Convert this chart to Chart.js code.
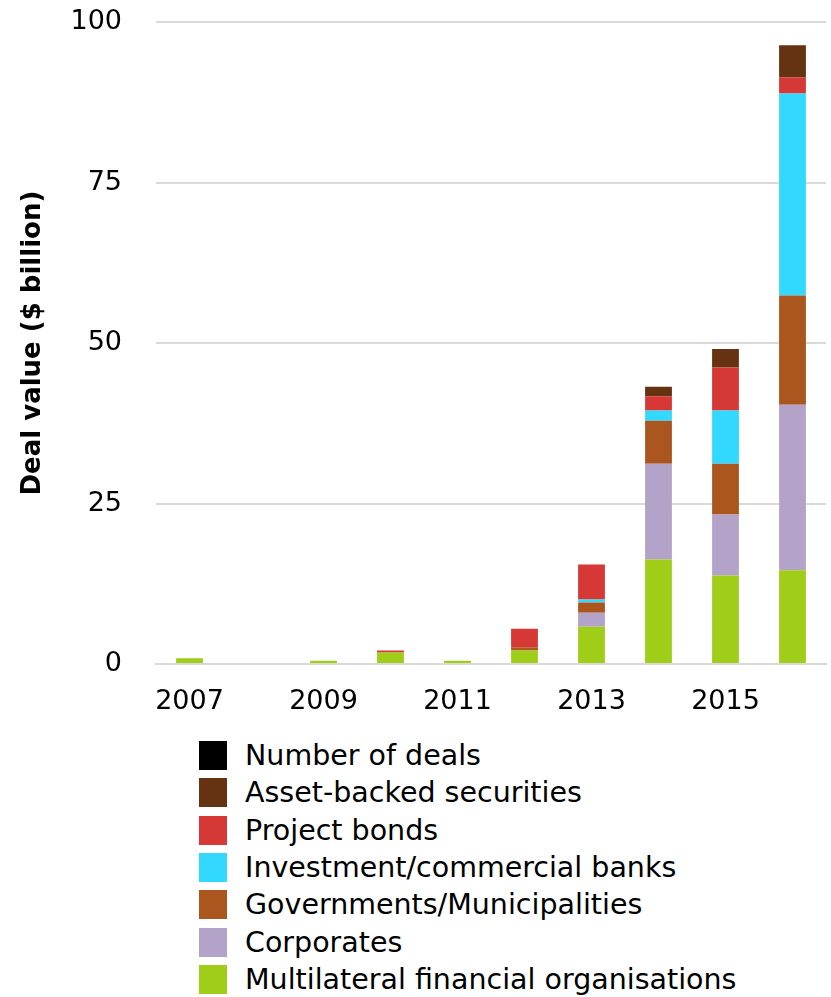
<!DOCTYPE html>
<html>
<head>
<meta charset="utf-8">
<script src="https://cdn.jsdelivr.net/npm/chart.js@4"></script>
<style>
  body { margin: 0; background: #fff; font-family: "DejaVu Sans", sans-serif; }
  #wrap { position: relative; width: 831px; height: 997px; }
  #grafico { position: absolute; left: 0; top: 0; }
  #leyenda { position: absolute; left: 199px; top: 737px; list-style: none; margin: 0; padding: 0; }
  #leyenda li { display: flex; align-items: center; height: 37.3px; font-size: 28.5px; color: #000; white-space: nowrap; }
  #leyenda span.caja { display: inline-block; width: 28px; height: 29px; margin-right: 18px; }
</style>
</head>
<body>
<div id="wrap">
  <canvas id="grafico" width="831" height="730"></canvas>
  <ul id="leyenda"></ul>
</div>
<script>
// years on the x axis (only every second one gets a label)
const anios = ["2007", "2008", "2009", "2010", "2011", "2012", "2013", "2014", "2015", "2016"];

// deal value per issuer type, $ billion
const multilaterales = [0.9, 0, 0.5, 1.8, 0.5, 2.1, 5.8, 16.3, 13.8, 14.6];
const corporativos   = [0, 0, 0, 0, 0, 0, 2.2, 14.9, 9.5, 25.8];
const gobiernos      = [0, 0, 0, 0, 0, 0.5, 1.6, 6.7, 7.9, 17.0];
const bancos         = [0, 0, 0, 0, 0, 0, 0.45, 1.6, 8.3, 31.5];
const bonosProyecto  = [0, 0, 0, 0.3, 0, 2.9, 5.45, 2.2, 6.7, 2.5];
const titulizados    = [0, 0, 0, 0, 0, 0, 0, 1.5, 2.9, 5.0];
const numeroDeals    = [];

const ticksY = [0, 25, 50, 75, 100];

const fuente = "DejaVu Sans";

const datasets = [
  { label: "Multilateral financial organisations", data: multilaterales, backgroundColor: "#9fcd18" },
  { label: "Corporates", data: corporativos, backgroundColor: "#b4a3c8" },
  { label: "Governments/Municipalities", data: gobiernos, backgroundColor: "#ab561e" },
  { label: "Investment/commercial banks", data: bancos, backgroundColor: "#33d8ff" },
  { label: "Project bonds", data: bonosProyecto, backgroundColor: "#d63835" },
  { label: "Asset-backed securities", data: titulizados, backgroundColor: "#653212" },
  { label: "Number of deals", type: "line", data: numeroDeals, backgroundColor: "#000", borderColor: "#000", pointRadius: 0 }
];

const ctx = document.getElementById("grafico").getContext("2d");
const grafico = new Chart(ctx, {
  type: "bar",
  data: { labels: anios, datasets: datasets },
  options: {
    responsive: false,
    animation: false,
    layout: { padding: { top: 0, right: 5, left: 0, bottom: 0 } },
    datasets: { bar: { categoryPercentage: 0.8, barPercentage: 0.5 } },
    plugins: { legend: { display: false }, tooltip: { enabled: false } },
    scales: {
      x: {
        stacked: true,
        grid: { display: false },
        border: { color: "#d9d9d9", width: 2 },
        ticks: {
          autoSkip: false,
          maxRotation: 0,
          padding: 14,
          color: "#000",
          font: { family: fuente, size: 27 },
          callback: function (val, i) { return i % 2 === 0 ? anios[i] : ""; }
        },
        afterFit: function (eje) { eje.height = 66; }
      },
      y: {
        stacked: true,
        min: 0,
        max: 100,
        afterBuildTicks: function (eje) { eje.ticks = ticksY.map(v => ({ value: v })); },
        // invisible tick marks keep the labels away from the plot
        grid: { color: "#d9d9d9", lineWidth: 2, drawTicks: true, tickLength: 28, tickColor: "rgba(0,0,0,0)" },
        border: { display: false },
        ticks: { padding: 6, color: "#000", font: { family: fuente, size: 27 } },
        title: {
          display: true,
          text: "Deal value ($ billion)",
          color: "#000",
          padding: { top: 18, bottom: 0 },
          font: { family: fuente, size: 26, weight: "bold" }
        },
        afterFit: function (eje) { eje.width = 156; }
      }
    }
  }
});

// legend below the chart, top item first
const lista = document.getElementById("leyenda");
grafico.data.datasets.slice().reverse().forEach(ds => {
  const li = document.createElement("li");
  const caja = document.createElement("span");
  caja.className = "caja";
  caja.style.background = ds.backgroundColor;
  li.appendChild(caja);
  li.appendChild(document.createTextNode(ds.label));
  lista.appendChild(li);
});
</script>
</body>
</html>
